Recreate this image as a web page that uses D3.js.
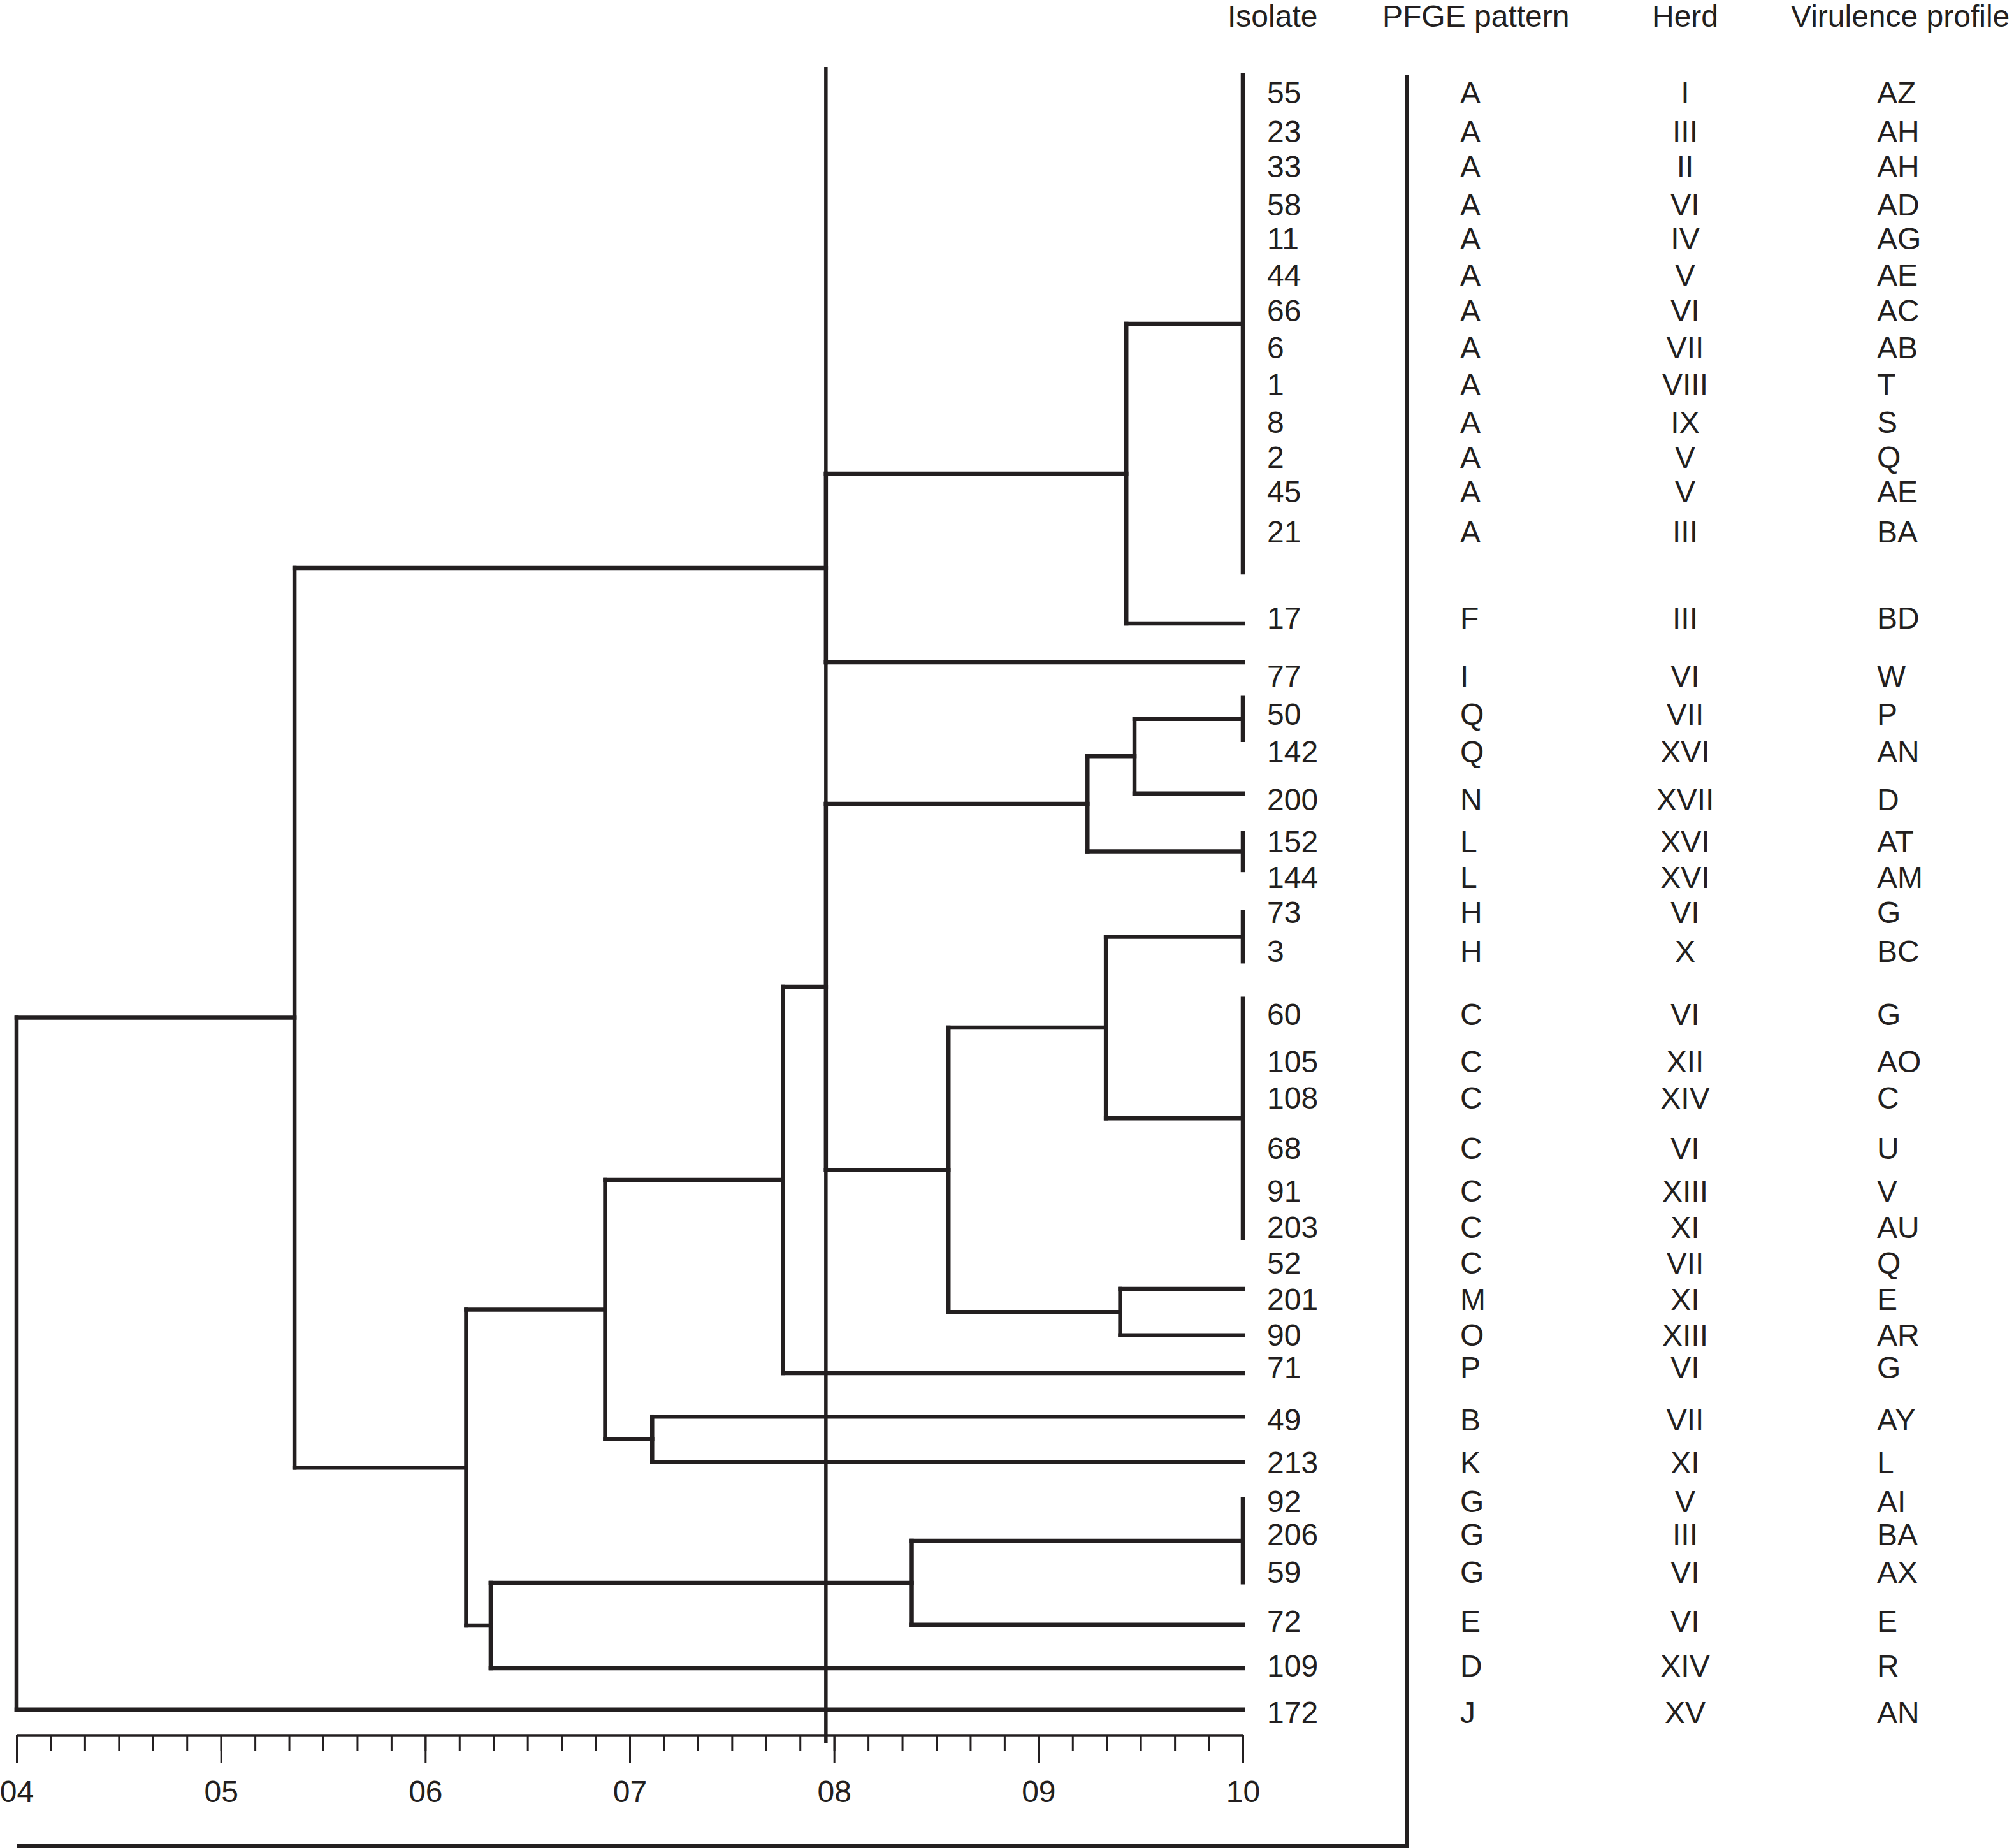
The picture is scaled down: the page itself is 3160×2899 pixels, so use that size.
<!DOCTYPE html>
<html><head><meta charset="utf-8">
<script src="https://cdn.jsdelivr.net/npm/d3@7"></script>
<style>
body{margin:0;background:#fff}
svg{display:block;background:#fff}
text{font-family:"Liberation Sans",Arial,Helvetica,sans-serif;fill:#231f20}
</style>
</head><body>
<svg id="chart" width="3160" height="2899"></svg>
<script>
// ---------------- data ----------------
const columnHeaders = ["Isolate", "PFGE pattern", "Herd", "Virulence profile"];

const isolates = ["55","23","33","58","11","44","66","6","1","8","2","45","21","17","77","50","142","200","152","144","73","3","60","105","108","68","91","203","52","201","90","71","49","213","92","206","59","72","109","172"];
const pfgePatterns = ["A","A","A","A","A","A","A","A","A","A","A","A","A","F","I","Q","Q","N","L","L","H","H","C","C","C","C","C","C","C","M","O","P","B","K","G","G","G","E","D","J"];
const herds = ["I","III","II","VI","IV","V","VI","VII","VIII","IX","V","V","III","III","VI","VII","XVI","XVII","XVI","XVI","VI","X","VI","XII","XIV","VI","XIII","XI","VII","XI","XIII","VI","VII","XI","V","III","VI","VI","XIV","XV"];
const virulenceProfiles = ["AZ","AH","AH","AD","AG","AE","AC","AB","T","S","Q","AE","BA","BD","W","P","AN","D","AT","AM","G","BC","G","AO","C","U","V","AU","Q","E","AR","G","AY","L","AI","BA","AX","E","R","AN"];
// row (vertical slot) of each label line, in row units
const labelRows = [0.0,1.08,2.06,3.12,4.06,5.07,6.05,7.09,8.12,9.17,10.14,11.10,12.22,14.61,16.22,17.29,18.33,19.65,20.83,21.83,22.80,23.88,25.64,26.95,27.96,29.36,30.55,31.56,32.54,33.56,34.56,35.46,36.91,38.09,39.18,40.11,41.15,42.52,43.76,45.04];

// dendrogram: nodes (internal merges, single isolates, and identical clusters at similarity 1.0)
const nodeIds        = ["root","n1","t1","a17","cA","i17","i77","ny","nz","nv","t2","qnl","qn","cQ","i200","cL","hcmo","hc","cH","cC","mo","i201","i90","i71","nu","i49","i213","nw","ge","cG","i72","i109","i172"];
const nodeParents    = [null,"root","n1","t1","a17","a17","t1","n1","ny","nz","nv","t2","qnl","qn","qn","qnl","t2","hcmo","hc","hc","hcmo","mo","mo","nv","nz","nu","nu","ny","nw","ge","ge","nw","root"];
const nodeSimilarity = [0.400,0.536,0.796,0.943,1.0,1.0,1.0,0.620,0.688,0.775,0.796,0.924,0.947,1.0,1.0,1.0,0.856,0.933,1.0,1.0,0.940,1.0,1.0,1.0,0.711,1.0,1.0,0.632,0.838,1.0,1.0,1.0,1.0];
// terminal branch extent (row units); internal nodes have null
const branchRowTop    = [null,null,null,null,-0.48,14.77,15.85,null,null,null,null,null,null,16.84,19.50,20.59,null,null,22.80,25.21,null,33.28,34.57,35.62,null,36.83,38.09,null,null,39.13,42.62,43.83,44.98];
const branchRowBottom = [null,null,null,null,13.35,14.77,15.85,null,null,null,null,null,null,18.01,19.50,21.63,null,null,24.17,31.86,null,33.28,34.57,35.62,null,36.83,38.09,null,null,41.44,42.62,43.83,44.98];

const cutoffSimilarity = 0.796;
const cutoffRowTop = -0.71;

const majorTicks = [0.4, 0.5, 0.6, 0.7, 0.8, 0.9, 1.0];
const majorTickLabels = ["04","05","06","07","08","09","10"];
const minorPerMajor = 6;

// ---------------- drawing ----------------
const ink = "#231f20";
const svg = d3.select("#chart");
const W = 3160, H = 2899;

const x = d3.scaleLinear().domain([0.4, 1.0]).range([26, 1950]);
const y = d3.scaleLinear().domain([0, 45]).range([145, 2683]);
const axisY = 2722;

const table = nodeIds.map((id, i) => ({
  id, parent: nodeParents[i], sim: nodeSimilarity[i],
  top: branchRowTop[i], bottom: branchRowBottom[i]
}));
const root = d3.stratify().id(d => d.id).parentId(d => d.parent)(table);

root.eachAfter(n => {
  if (!n.children) {
    n.yy = (y(n.data.top) + y(n.data.bottom)) / 2;
  } else {
    const ys = n.children.map(c => c.yy);
    n.y0 = d3.min(ys); n.y1 = d3.max(ys);
    n.yy = (n.y0 + n.y1) / 2;
  }
});

const tree = svg.append("g")
  .attr("fill", "none").attr("stroke", ink)
  .attr("stroke-width", 6.5).attr("stroke-linecap", "square");

const segs = [];
root.descendants().forEach(n => {
  if (n.children) segs.push([x(n.data.sim), n.y0, x(n.data.sim), n.y1]);
  if (n.parent) segs.push([x(n.parent.data.sim), n.yy, x(n.data.sim), n.yy]);
  if (!n.children && n.data.top !== n.data.bottom)
    segs.push([x(n.data.sim), y(n.data.top), x(n.data.sim), y(n.data.bottom)]);
});
tree.selectAll("line").data(segs).join("line")
  .attr("x1", d => d[0]).attr("y1", d => d[1])
  .attr("x2", d => d[2]).attr("y2", d => d[3]);

// cutoff reference line
svg.append("line")
  .attr("x1", x(cutoffSimilarity)).attr("x2", x(cutoffSimilarity))
  .attr("y1", y(cutoffRowTop)).attr("y2", axisY + 13)
  .attr("stroke", ink).attr("stroke-width", 5.5);

// axis
const minorTicks = d3.range(0, (majorTicks.length - 1) * minorPerMajor + 1)
  .map(i => 0.4 + i * 0.1 / minorPerMajor);
const gMinor = svg.append("g").attr("transform", `translate(0,${axisY})`).style("color", ink)
  .call(d3.axisBottom(x).tickValues(minorTicks).tickSize(25).tickFormat("").tickSizeOuter(0));
gMinor.select(".domain").remove();
gMinor.selectAll("line").attr("stroke-width", 3);

const gMajor = svg.append("g").attr("transform", `translate(0,${axisY})`).style("color", ink)
  .call(d3.axisBottom(x).tickValues(majorTicks).tickSize(44).tickSizeOuter(0)
    .tickPadding(27).tickFormat((d, i) => majorTickLabels[i]));
gMajor.select(".domain").attr("stroke-width", 4.5);
gMajor.selectAll("line").attr("stroke-width", 3);
gMajor.selectAll("text").attr("font-size", 48)
  .attr("font-family", '"Liberation Sans",Arial,Helvetica,sans-serif').attr("fill", ink);

// frame (right vertical + bottom)
svg.append("line").attr("x1", 2208).attr("x2", 2208).attr("y1", 118).attr("y2", H)
  .attr("stroke", ink).attr("stroke-width", 6);
svg.append("line").attr("x1", 26).attr("x2", 2211).attr("y1", 2895.5).attr("y2", 2895.5)
  .attr("stroke", ink).attr("stroke-width", 7);

// headers
const headerX = [1926, 2169, 2644, 2810];
const headerAnchor = ["start", "start", "middle", "start"];
svg.append("g").selectAll("text").data(columnHeaders).join("text")
  .attr("x", (d, i) => headerX[i]).attr("y", 42)
  .attr("text-anchor", (d, i) => headerAnchor[i])
  .attr("font-size", 48).text(d => d);

// row labels
const cols = [
  { values: isolates, x: 1988, anchor: "start" },
  { values: pfgePatterns, x: 2291, anchor: "start" },
  { values: herds, x: 2644, anchor: "middle" },
  { values: virulenceProfiles, x: 2945, anchor: "start" }
];
const lab = svg.append("g").attr("font-size", 48);
cols.forEach(c => {
  lab.append("g").selectAll("text").data(c.values).join("text")
    .attr("x", c.x).attr("y", (d, i) => y(labelRows[i]))
    .attr("dy", "0.36em").attr("text-anchor", c.anchor).text(d => d);
});
</script>
</body></html>
